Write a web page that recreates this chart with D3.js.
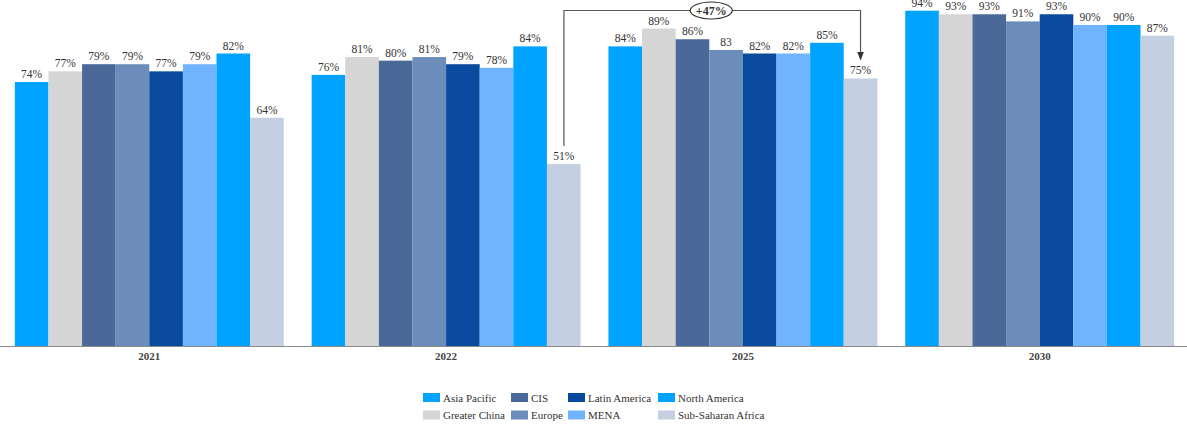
<!DOCTYPE html>
<html>
<head>
<meta charset="utf-8">
<script src="https://cdn.jsdelivr.net/npm/d3@7"></script>
<style>
  html, body { margin: 0; padding: 0; background: #fff; }
  svg { display: block; }
  svg text { font-family: "Liberation Serif", "DejaVu Serif", serif; }
</style>
</head>
<body>
<svg id="chart" width="1187" height="426"></svg>
<script>
// Years shown as groups along the x axis
const years = ["2021", "2022", "2025", "2030"];

// Regions (one bar per region inside each year)
const regions = ["Asia Pacific", "Greater China", "CIS", "Europe", "Latin America", "MENA", "North America", "Sub-Saharan Africa"];

// Share (%) per region, in the order of `years`
const asiaPacific      = [74, 76, 84, 94];
const greaterChina     = [77, 81, 89, 93];
const cis              = [79, 80, 86, 93];
const europe           = [79, 81, 83, 91];
const latinAmerica     = [77, 79, 82, 93];
const mena             = [79, 78, 82, 90];
const northAmerica     = [82, 84, 85, 90];
const subSaharanAfrica = [64, 51, 75, 87];

// Bars whose printed value carries no percent sign
const plainLabels = ["Europe|2025"];

const seriesValues = [asiaPacific, greaterChina, cis, europe, latinAmerica, mena, northAmerica, subSaharanAfrica];

const colors = ["#00A3FF", "#D5D5D5", "#4A6898", "#6C8CB9", "#0A4A9E", "#70B4FF", "#00A3FF", "#C4CFE2"];

// Growth callout between two bars
const callout = {from: ["2022", "Sub-Saharan Africa"], to: ["2025", "Sub-Saharan Africa"], text: "+47%"};

const FONT = "Liberation Serif";
const svg = d3.select("#chart");
const W = 1187;
const baseY = 346;

const x0 = d3.scaleBand().domain(years).range([0, 1189]).paddingInner(0.094).paddingOuter(0.05);
const x1 = d3.scaleBand().domain(regions).range([0, x0.bandwidth()]).padding(0);
const y = d3.scaleLinear().domain([0, 97]).range([baseY, 0]);
const color = d3.scaleOrdinal().domain(regions).range(colors);

const rows = [];
years.forEach((yr, i) => {
  regions.forEach((r, j) => rows.push({year: yr, region: r, value: seriesValues[j][i]}));
});

const g = svg.append("g");

g.selectAll("rect.bar").data(rows).join("rect")
  .attr("class", "bar")
  .attr("x", d => x0(d.year) + x1(d.region))
  .attr("y", d => y(d.value))
  .attr("width", x1.bandwidth())
  .attr("height", d => baseY - y(d.value))
  .attr("fill", d => color(d.region));

g.selectAll("text.val").data(rows).join("text")
  .attr("class", "val")
  .attr("x", d => x0(d.year) + x1(d.region) + x1.bandwidth() / 2)
  .attr("y", d => y(d.value) - 4)
  .attr("text-anchor", "middle")
  .attr("font-family", FONT)
  .attr("font-size", 11.5)
  .attr("fill", "#333")
  .text(d => d.value + (plainLabels.includes(d.region + "|" + d.year) ? "" : "%"));

// Baseline axis with year labels
const axis = d3.axisBottom(x0).tickSize(0).tickPadding(6);
const ax = svg.append("g").attr("transform", `translate(0,${baseY})`).call(axis);
ax.attr("font-family", FONT);
ax.select(".domain").attr("d", `M0,0.5H${W}`).attr("stroke", "#8a8a8a").attr("stroke-width", 1.2);
ax.selectAll("text")
  .attr("font-family", FONT)
  .attr("font-size", 11)
  .attr("font-weight", "bold")
  .attr("fill", "#444");

// Callout bracket
const defs = svg.append("defs");
defs.append("marker").attr("id", "arrow").attr("viewBox", "0 0 10 10")
  .attr("refX", 9).attr("refY", 5).attr("markerWidth", 7).attr("markerHeight", 7)
  .attr("orient", "auto")
  .append("path").attr("d", "M0,1L10,5L0,9Z").attr("fill", "#333");

const fromVal = seriesValues[regions.indexOf(callout.from[1])][years.indexOf(callout.from[0])];
const toVal = seriesValues[regions.indexOf(callout.to[1])][years.indexOf(callout.to[0])];
const fx = x0(callout.from[0]) + x1(callout.from[1]) + 17;
const tx = x0(callout.to[0]) + x1(callout.to[1]) + x1.bandwidth() / 2;
const topY = 10.5;
svg.append("path")
  .attr("d", `M${fx},${y(fromVal) - 18}V${topY}H${tx}V${y(toVal) - 19}`)
  .attr("fill", "none").attr("stroke", "#555").attr("stroke-width", 1.2)
  .attr("marker-end", "url(#arrow)");
const cx = (fx + tx) / 2 - 1;
svg.append("ellipse").attr("cx", cx).attr("cy", topY).attr("rx", 21).attr("ry", 8.5)
  .attr("fill", "#fff").attr("stroke", "#333").attr("stroke-width", 1.2);
svg.append("text").attr("x", cx).attr("y", topY + 4).attr("text-anchor", "middle")
  .attr("font-family", FONT)
  .attr("font-size", 12).attr("font-weight", "bold").attr("fill", "#333").text(callout.text);

// Legend: 4 columns x 2 rows
const legendCols = [423, 511, 568, 658];
const legend = svg.append("g");
regions.forEach((r, i) => {
  const col = Math.floor(i / 2), row = i % 2;
  const lx = legendCols[col], ly = 393 + row * 17.5;
  legend.append("rect").attr("x", lx).attr("y", ly).attr("width", 17).attr("height", 9).attr("fill", color(r));
  legend.append("text").attr("x", lx + 20).attr("y", ly + 8.5)
    .attr("font-family", FONT)
    .attr("font-size", 11).attr("fill", "#333").text(r);
});
</script>
</body>
</html>
